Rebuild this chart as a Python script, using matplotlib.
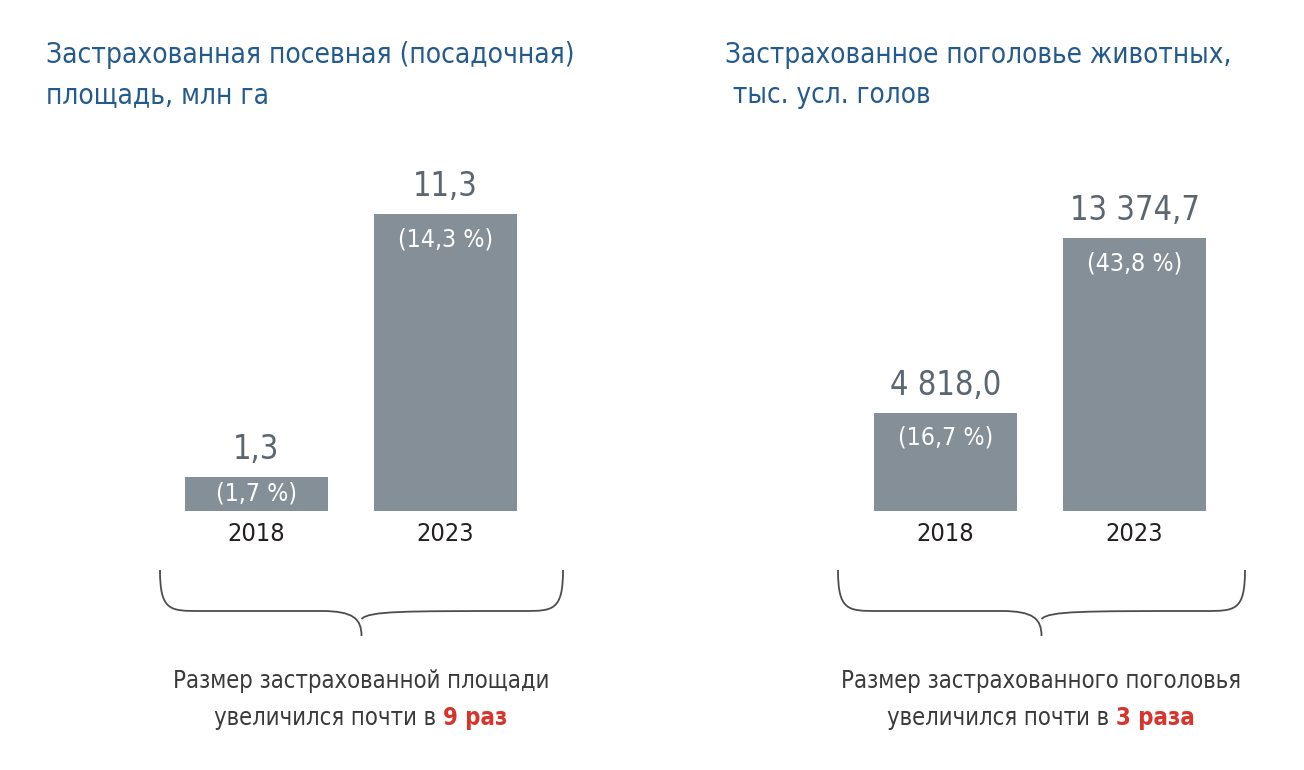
import matplotlib
matplotlib.use('Agg')
import matplotlib.pyplot as plt
from matplotlib import font_manager as fm
from matplotlib.path import Path
from matplotlib.patches import PathPatch

# Data
years = ['2018', '2023']
area_values = [1.3, 11.3]
area_labels = ['1,3', '11,3']
area_shares = ['(1,7 %)', '(14,3 %)']
herd_values = [4818.0, 13374.7]
herd_labels = ['4 818,0', '13 374,7']
herd_shares = ['(16,7 %)', '(43,8 %)']

title_left = ['Застрахованная посевная (посадочная)', 'площадь, млн га']
title_right = ['Застрахованное поголовье животных,', ' тыс. усл. голов']
note_left = ('Размер застрахованной площади', 'увеличился почти в ', '9 раз')
note_right = ('Размер застрахованного поголовья', 'увеличился почти в ', '3 раза')

# look for a narrow face, the reference uses a condensed grotesque
narrow = None
for f in fm.fontManager.ttflist:
    st = f.stretch
    is_narrow = ('Condensed' in f.name or 'Narrow' in f.name
                 or (isinstance(st, int) and st < 500)
                 or st in ('condensed', 'semi-condensed', 'extra-condensed'))
    if is_narrow:
        narrow = f
        break
if narrow is not None:
    FAMILY = [narrow.name, 'DejaVu Sans']
    STRETCH = narrow.stretch
else:
    FAMILY = ['Roboto', 'DejaVu Sans']
    STRETCH = 'normal'
plt.rcParams['font.family'] = FAMILY
plt.rcParams['font.stretch'] = STRETCH

BAR = '#848f97'
BLUE = '#245a8c'
VALUE = '#5b6670'
DARK = '#3a3a3a'
RED = '#d7342c'

W, H = 1304, 770
fig = plt.figure(figsize=(W / 100, H / 100), dpi=100)
renderer = fig.canvas.get_renderer()


def fit(texts, target, size):
    # shrink a group of texts so the widest one is no wider than target px
    for t in texts:
        t.set_fontsize(size)
    wmax = max(t.get_window_extent(renderer).width for t in texts)
    if wmax > target:
        for t in texts:
            t.set_fontsize(size * target / wmax)


def px_axes(x0, x1, base_y, height):
    return fig.add_axes([x0 / W, (H - base_y) / H, (x1 - x0) / W, height / H])


def panel(x0, values, labels, shares, ymax, px_per_unit):
    ax = px_axes(x0, x0 + 378, 511, ymax * px_per_unit)
    ax.bar(range(len(values)), values, width=0.757, color=BAR)
    ax.set_xlim(-0.5, 1.5)
    ax.set_ylim(0, ymax)
    ax.set_xticks(range(len(values)))
    ax.set_xticklabels(years, color='#231f20')
    ax.tick_params(axis='x', length=0, pad=8)
    ax.set_yticks([])
    for s in ax.spines.values():
        s.set_visible(False)
    labs, shs = [], []
    for i, (v, lab, sh) in enumerate(zip(values, labels, shares)):
        labs.append(ax.annotate(lab, (i, v), xytext=(0, 13), textcoords='offset points',
                                ha='center', va='baseline', color=VALUE))
        drop = min(25, v * px_per_unit / 2) * 0.72
        shs.append(ax.annotate(sh, (i, v), xytext=(0, -drop), textcoords='offset points',
                               ha='center', va='center', color='white'))
    return ax, labs, shs


ax1, labs1, shs1 = panel(162, area_values, area_labels, area_shares, 12, 297 / 11.3)
ax2, labs2, shs2 = panel(851, herd_values, herd_labels, herd_shares, 14000, 273 / 13374.7)

fit(labs1 + labs2, 130, 31)
fit(shs1 + shs2, 96, 20)
fit(ax1.get_xticklabels() + ax2.get_xticklabels(), 58, 25)


def title(x, lines, target):
    ts = [fig.text(x / W, 1 - y / H, s, color=BLUE, ha='left', va='center')
          for s, y in zip(lines, (55, 95))]
    fit(ts, target, 26)


title(46, title_left, 531)
title(725, title_right, 507)


def brace(x0, x1, top, mid, tip):
    cx = (x0 + x1) / 2
    pts = [(x0, top), (x0, mid), (x0 + 10, mid), (x0 + 40, mid),
           (cx - 40, mid), (cx - 8, mid), (cx, mid + 8), (cx, tip),
           (cx, mid + 8), (cx + 8, mid), (cx + 40, mid),
           (x1 - 40, mid), (x1 - 10, mid), (x1, mid), (x1, top)]
    codes = [Path.MOVETO, Path.CURVE4, Path.CURVE4, Path.CURVE4,
             Path.LINETO, Path.CURVE4, Path.CURVE4, Path.CURVE4,
             Path.MOVETO, Path.CURVE4, Path.CURVE4,
             Path.LINETO, Path.CURVE4, Path.CURVE4, Path.CURVE4]
    verts = [(x / W, 1 - y / H) for x, y in pts]
    fig.patches.append(PathPatch(Path(verts, codes), transform=fig.transFigure,
                                 fill=False, edgecolor='#4d4d4d', lw=1.3))


brace(160, 563, 570, 611, 636)
brace(838, 1245, 570, 611, 636)


def note(cx, lines):
    t0 = fig.text(cx / W, 1 - 681 / H, lines[0], color=DARK, ha='center', va='center')
    t1 = fig.text(0, 1 - 718 / H, lines[1], color=DARK, ha='left', va='center')
    t2 = fig.text(0, 1 - 718 / H, lines[2], color=RED, fontweight='bold',
                  ha='left', va='center')
    return t0, t1, t2


n1 = note(361, note_left)
n2 = note(1041, note_right)
fit([n1[0], n2[0]], 402, 24)
for cx, ts in ((361, n1), (1041, n2)):
    t0, t1, t2 = ts
    for t in (t1, t2):
        t.set_fontsize(t0.get_fontsize())
    w1 = t1.get_window_extent(renderer).width
    w2 = t2.get_window_extent(renderer).width
    start = cx - (w1 + w2) / 2
    t1.set_x(start / W)
    t2.set_x((start + w1) / W)

fig.savefig('out.png', dpi=100)
